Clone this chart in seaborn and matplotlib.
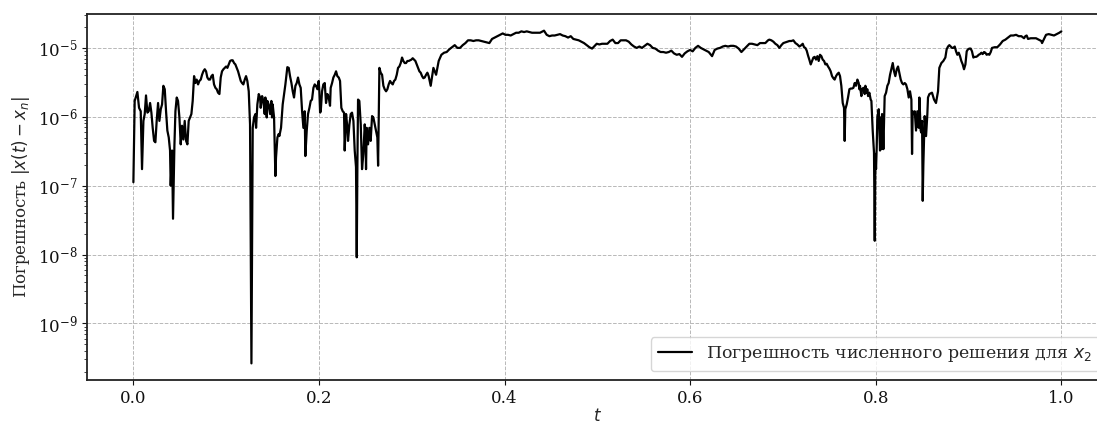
import numpy as np
import pandas as pd
import matplotlib
matplotlib.use("Agg")
import matplotlib.pyplot as plt
import seaborn as sns

# time points
t_vals = [
    0.0000, 0.0014, 0.0043, 0.0061, 0.0079, 0.0093, 0.0108, 0.0122, 0.0136, 0.0151,
    0.0165, 0.0180, 0.0194, 0.0208, 0.0223, 0.0237, 0.0251, 0.0266, 0.0280, 0.0295,
    0.0309, 0.0323, 0.0338, 0.0352, 0.0366, 0.0381, 0.0395, 0.0402, 0.0417, 0.0427,
    0.0442, 0.0453, 0.0467, 0.0481, 0.0496, 0.0510, 0.0524, 0.0539, 0.0553, 0.0568,
    0.0582, 0.0596, 0.0611, 0.0625, 0.0639, 0.0654, 0.0668, 0.0682, 0.0697, 0.0711,
    0.0726, 0.0740, 0.0754, 0.0769, 0.0783, 0.0797, 0.0812, 0.0826, 0.0841, 0.0855,
    0.0869, 0.0884, 0.0898, 0.0912, 0.0927, 0.0941, 0.0955, 0.0970, 0.0984, 0.0999,
    0.1013, 0.1027, 0.1042, 0.1056, 0.1070, 0.1085, 0.1099, 0.1113, 0.1128, 0.1142,
    0.1157, 0.1171, 0.1185, 0.1200, 0.1214, 0.1228, 0.1243, 0.1257, 0.1272, 0.1286,
    0.1300, 0.1315, 0.1322, 0.1336, 0.1351, 0.1365, 0.1372, 0.1387, 0.1401, 0.1415,
    0.1422, 0.1437, 0.1444, 0.1458, 0.1473, 0.1487, 0.1494, 0.1501, 0.1516, 0.1530,
    0.1537, 0.1552, 0.1566,
    0.1573, 0.1591, 0.1609, 0.1638, 0.1659, 0.1674, 0.1688, 0.1703, 0.1717, 0.1731,
    0.1746, 0.1760, 0.1774, 0.1789, 0.1803, 0.1818, 0.1832, 0.1846, 0.1853, 0.1868,
    0.1882, 0.1897, 0.1911, 0.1925, 0.1940, 0.1954, 0.1968, 0.1983, 0.1997, 0.2004,
    0.2012, 0.2019, 0.2033, 0.2047, 0.2062, 0.2076, 0.2091, 0.2105, 0.2119, 0.2126,
    0.2141, 0.2155, 0.2170, 0.2184, 0.2198, 0.2213, 0.2227, 0.2241, 0.2256, 0.2270,
    0.2277, 0.2292, 0.2306, 0.2313, 0.2328, 0.2342, 0.2356, 0.2371, 0.2385, 0.2399,
    0.2407, 0.2414, 0.2421, 0.2435, 0.2450, 0.2464, 0.2478, 0.2493, 0.2500, 0.2507,
    0.2514, 0.2529, 0.2543, 0.2557, 0.2572, 0.2586, 0.2601, 0.2615, 0.2629, 0.2637,
    0.2651, 0.2665, 0.2680, 0.2694, 0.2708, 0.2723, 0.2737, 0.2751, 0.2766, 0.2780,
    0.2795, 0.2809, 0.2823, 0.2838, 0.2852, 0.2866, 0.2881, 0.2895, 0.2909, 0.2924,
    0.2938, 0.2953, 0.2967, 0.2981, 0.2996, 0.3010, 0.3024, 0.3039, 0.3053, 0.3068,
    0.3082, 0.3096, 0.3111, 0.3125, 0.3139, 0.3154, 0.3168, 0.3182,
    0.3204, 0.3233, 0.3262, 0.3290, 0.3319, 0.3348, 0.3376, 0.3405, 0.3434, 0.3463,
    0.3491, 0.3520, 0.3549, 0.3578, 0.3606, 0.3635, 0.3664, 0.3693, 0.3721, 0.3750,
    0.3779, 0.3807, 0.3836, 0.3865, 0.3894, 0.3922, 0.3951, 0.3980, 0.4009, 0.4037,
    0.4066, 0.4095, 0.4124, 0.4152, 0.4181, 0.4210, 0.4239, 0.4267, 0.4296, 0.4325,
    0.4353, 0.4382, 0.4411, 0.4425, 0.4454, 0.4483, 0.4512, 0.4540, 0.4569, 0.4598,
    0.4626, 0.4655, 0.4684, 0.4713, 0.4741, 0.4770, 0.4799, 0.4828, 0.4856, 0.4885,
    0.4914, 0.4943, 0.4964, 0.4993, 0.5022, 0.5050, 0.5079, 0.5108, 0.5137, 0.5165,
    0.5194, 0.5223, 0.5251, 0.5280, 0.5309, 0.5338, 0.5366, 0.5395, 0.5424, 0.5453,
    0.5481, 0.5510, 0.5539, 0.5568, 0.5596, 0.5625, 0.5654, 0.5682, 0.5711, 0.5740,
    0.5769, 0.5797, 0.5826, 0.5855, 0.5884, 0.5912, 0.5941, 0.5970, 0.5999, 0.6027,
    0.6056, 0.6085, 0.6114, 0.6142, 0.6171, 0.6200, 0.6236, 0.6264, 0.6293, 0.6322,
    0.6351, 0.6379, 0.6408, 0.6437, 0.6466, 0.6494, 0.6523, 0.6552, 0.6580, 0.6609,
    0.6638, 0.6667, 0.6695, 0.6724, 0.6753, 0.6782, 0.6810, 0.6839,
    0.6853, 0.6875, 0.6897, 0.6918, 0.6940, 0.6961, 0.6983, 0.7004, 0.7026, 0.7047,
    0.7069, 0.7091, 0.7112, 0.7134, 0.7155, 0.7177, 0.7198, 0.7213, 0.7227, 0.7241,
    0.7256, 0.7270, 0.7284, 0.7299, 0.7313, 0.7328, 0.7342, 0.7356, 0.7371, 0.7385,
    0.7399, 0.7414, 0.7428, 0.7443, 0.7457, 0.7471, 0.7486, 0.7500, 0.7514, 0.7529,
    0.7543, 0.7557, 0.7572, 0.7586, 0.7601, 0.7615, 0.7629, 0.7644, 0.7658, 0.7665,
    0.7672, 0.7687, 0.7701, 0.7716, 0.7730, 0.7744, 0.7759, 0.7773, 0.7787, 0.7802,
    0.7816, 0.7823, 0.7830, 0.7845, 0.7852, 0.7866, 0.7881, 0.7888, 0.7902, 0.7909,
    0.7917, 0.7931, 0.7945, 0.7953, 0.7967, 0.7981, 0.7989, 0.7996, 0.8003, 0.8010,
    0.8017, 0.8032, 0.8046, 0.8053, 0.8060, 0.8068, 0.8075, 0.8082, 0.8089, 0.8096,
    0.8111, 0.8125, 0.8139, 0.8154, 0.8168, 0.8183, 0.8197, 0.8211, 0.8226, 0.8240,
    0.8254, 0.8269, 0.8283, 0.8297, 0.8312, 0.8326, 0.8341, 0.8355, 0.8369, 0.8384,
    0.8391, 0.8398, 0.8412, 0.8420, 0.8434, 0.8448, 0.8463, 0.8470, 0.8484, 0.8491,
    0.8499, 0.8506, 0.8513, 0.8527, 0.8542, 0.8556, 0.8563,
    0.8578, 0.8606, 0.8628, 0.8649, 0.8671, 0.8685, 0.8707, 0.8728, 0.8750, 0.8764,
    0.8779, 0.8793, 0.8807, 0.8822, 0.8836, 0.8851, 0.8865, 0.8879, 0.8894, 0.8908,
    0.8922, 0.8937, 0.8951, 0.8966, 0.8980, 0.8994, 0.9009, 0.9023, 0.9037, 0.9052,
    0.9066, 0.9081, 0.9095, 0.9109, 0.9124, 0.9138, 0.9152, 0.9167, 0.9181, 0.9195,
    0.9210, 0.9224, 0.9239, 0.9253, 0.9282, 0.9310, 0.9339, 0.9368, 0.9397, 0.9425,
    0.9454, 0.9483, 0.9512, 0.9540, 0.9569, 0.9598, 0.9612, 0.9626, 0.9641, 0.9670,
    0.9698, 0.9727, 0.9756, 0.9784, 0.9792, 0.9806, 0.9821, 0.9835, 0.9864, 0.9892,
    0.9921, 0.9950, 0.9978, 1.0000,
]

# log10 of the error |x(t) - x_n|
log_err = [
    -6.95, -5.77, -5.64, -5.87, -5.92, -6.76, -6.06, -5.96, -5.69, -5.94,
    -5.92, -5.80, -5.94, -6.16, -6.35, -6.37, -6.06, -5.80, -6.06, -5.89,
    -5.82, -5.55, -5.60, -5.92, -6.20, -6.30, -6.49, -7.00, -6.49, -7.48,
    -6.42, -5.92, -5.72, -5.77, -6.01, -6.40, -6.13, -6.33, -6.06, -6.35,
    -6.40, -6.06, -6.01, -5.96, -5.77, -5.41, -5.51, -5.46, -5.53, -5.48,
    -5.46, -5.39, -5.34, -5.31, -5.34, -5.43, -5.46, -5.46, -5.41, -5.39,
    -5.53, -5.58, -5.60, -5.65, -5.67, -5.43, -5.34, -5.31, -5.29, -5.27,
    -5.29, -5.24, -5.19, -5.18, -5.18, -5.22, -5.24, -5.29, -5.34, -5.41,
    -5.48, -5.51, -5.53, -5.46, -5.41, -5.48, -5.63, -6.11, -9.58, -6.16,
    -6.01, -5.96, -6.16, -5.82, -5.67, -5.72, -5.87, -5.70, -5.77, -5.96,
    -5.72, -6.01, -5.77, -5.82, -5.96, -5.77, -6.01, -5.82, -6.01, -6.86,
    -6.59, -6.30, -6.25,
    -6.28, -6.16, -5.82, -5.53, -5.28, -5.29, -5.41, -5.51, -5.63, -5.72,
    -5.55, -5.51, -5.43, -5.53, -5.58, -5.92, -6.16, -5.92, -6.57, -6.20,
    -5.96, -5.87, -5.77, -5.75, -5.58, -5.53, -5.55, -5.60, -5.48, -5.63,
    -5.94, -5.92, -5.63, -5.53, -5.51, -5.80, -5.67, -5.72, -5.84, -5.58,
    -5.51, -5.43, -5.39, -5.34, -5.41, -5.43, -5.48, -5.87, -5.92, -5.94,
    -6.49, -5.96, -6.16, -6.35, -6.11, -5.96, -5.94, -6.06, -6.49, -6.73,
    -8.04, -6.69, -5.75, -5.77, -6.11, -6.76, -6.54, -6.11, -6.25, -6.76,
    -6.16, -6.40, -6.16, -6.35, -5.99, -6.01, -6.11, -6.20, -6.30, -6.71,
    -5.29, -5.36, -5.39, -5.55, -5.60, -5.63, -5.60, -5.53, -5.48, -5.51,
    -5.53, -5.48, -5.46, -5.39, -5.29, -5.27, -5.22, -5.14, -5.19, -5.22,
    -5.22, -5.19, -5.19, -5.18, -5.17, -5.15, -5.17, -5.19, -5.24, -5.29,
    -5.34, -5.36, -5.41, -5.44, -5.43, -5.39, -5.36, -5.41,
    -5.55, -5.29, -5.39, -5.19, -5.10, -5.07, -5.06, -5.02, -4.99, -4.96,
    -5.00, -5.00, -4.96, -4.93, -4.89, -4.89, -4.90, -4.89, -4.89, -4.90,
    -4.91, -4.92, -4.93, -4.87, -4.85, -4.83, -4.81, -4.79, -4.81, -4.81,
    -4.82, -4.80, -4.78, -4.78, -4.76, -4.77, -4.76, -4.77, -4.78, -4.78,
    -4.78, -4.78, -4.76, -4.75, -4.81, -4.83, -4.82, -4.82, -4.81, -4.80,
    -4.82, -4.83, -4.85, -4.83, -4.87, -4.88, -4.89, -4.91, -4.93, -4.96,
    -4.99, -5.01, -4.98, -4.94, -4.95, -4.94, -4.94, -4.94, -4.90, -4.88,
    -4.93, -4.93, -4.89, -4.89, -4.89, -4.91, -4.95, -4.98, -5.00, -4.98,
    -5.00, -4.97, -4.94, -4.96, -5.00, -5.01, -5.04, -5.06, -5.06, -5.07,
    -5.06, -5.04, -5.08, -5.10, -5.09, -5.13, -5.08, -5.05, -5.03, -5.05,
    -5.00, -4.97, -5.00, -5.02, -5.04, -5.06, -5.12, -5.03, -5.01, -5.00,
    -4.98, -4.97, -4.98, -4.97, -4.97, -4.98, -5.01, -5.06, -5.02, -4.98,
    -4.94, -4.94, -4.95, -4.96, -4.93, -4.93, -4.93, -4.89,
    -4.88, -4.89, -4.91, -4.94, -4.96, -5.00, -4.96, -4.93, -4.92, -4.91,
    -4.90, -4.90, -4.89, -4.93, -4.95, -4.98, -4.96, -4.94, -4.99, -5.00,
    -5.04, -5.11, -5.17, -5.24, -5.19, -5.14, -5.13, -5.17, -5.12, -5.19,
    -5.10, -5.12, -5.17, -5.19, -5.24, -5.23, -5.27, -5.30, -5.34, -5.41,
    -5.44, -5.46, -5.41, -5.38, -5.36, -5.41, -5.55, -5.80, -5.87, -6.35,
    -5.89, -5.82, -5.72, -5.60, -5.59, -5.59, -5.58, -5.51, -5.55, -5.46,
    -5.51, -5.60, -5.55, -5.70, -5.60, -5.58, -5.67, -5.55, -5.65, -5.60,
    -5.70, -5.65, -5.75, -5.77, -6.20, -6.52, -7.80, -6.54, -6.76, -6.45,
    -6.01, -5.89, -6.49, -6.01, -6.47, -5.96, -6.11, -6.47, -6.06, -5.70,
    -5.65, -5.55, -5.51, -5.39, -5.31, -5.22, -5.34, -5.41, -5.31, -5.27,
    -5.36, -5.46, -5.51, -5.53, -5.51, -5.53, -5.60, -5.72, -5.63, -5.75,
    -6.54, -5.92, -5.96, -5.92, -6.20, -5.92, -6.16, -5.72, -6.20, -6.23,
    -6.06, -7.22, -6.69, -5.99, -6.28, -5.96, -5.72,
    -5.67, -5.65, -5.75, -5.80, -5.63, -5.29, -5.22, -5.19, -5.14, -5.02,
    -4.98, -4.96, -4.98, -5.00, -5.00, -4.98, -5.05, -5.10, -5.07, -5.12,
    -5.19, -5.24, -5.31, -5.24, -5.05, -5.02, -5.01, -5.01, -5.05, -5.14,
    -5.13, -5.13, -5.12, -5.10, -5.09, -5.07, -5.09, -5.06, -5.07, -5.10,
    -5.09, -5.10, -5.06, -5.00, -4.99, -4.99, -4.95, -4.90, -4.88, -4.85,
    -4.82, -4.82, -4.81, -4.83, -4.83, -4.86, -4.83, -4.82, -4.87, -4.86,
    -4.86, -4.86, -4.88, -4.90, -4.93, -4.89, -4.85, -4.81, -4.80, -4.81,
    -4.82, -4.80, -4.78, -4.76,
]

df = pd.DataFrame({"t": t_vals, "err": 10.0 ** np.array(log_err)})

sns.set_style("ticks")
plt.rcParams["font.family"] = ["DejaVu Serif"]
plt.rcParams["font.size"] = 12
plt.rcParams["mathtext.fontset"] = "dejavusans"

fig = plt.figure(figsize=(10.97, 4.28), dpi=100)
ax = fig.add_axes([0.0793, 0.1121, 0.9305, 0.8551])

sns.lineplot(data=df, x="t", y="err", ax=ax, color="black", linewidth=1.6,
             estimator=None, sort=False,
             label="Погрешность численного решения для $x_2$")

ax.set_yscale("log")
ax.margins(x=0.05, y=0.05)
ax.set_xticks([0.0, 0.2, 0.4, 0.6, 0.8, 1.0])
ax.set_xlabel("$t$", fontsize=12, labelpad=1)
ax.set_ylabel("Погрешность $|x(t) - x_n|$", fontsize=12)
ax.tick_params(labelsize=12, colors="#111111")

ax.grid(True, which="major", linestyle="--", linewidth=0.7, color="#b8b8b8")
for side in ["left", "top", "bottom", "right"]:
    ax.spines[side].set_color("#222222")
    ax.spines[side].set_linewidth(1.3)

ax.legend(loc="lower right", fontsize=12.5, frameon=True, fancybox=True,
          edgecolor="#cccccc", framealpha=0.8)

fig.savefig("out.png", dpi=100)
